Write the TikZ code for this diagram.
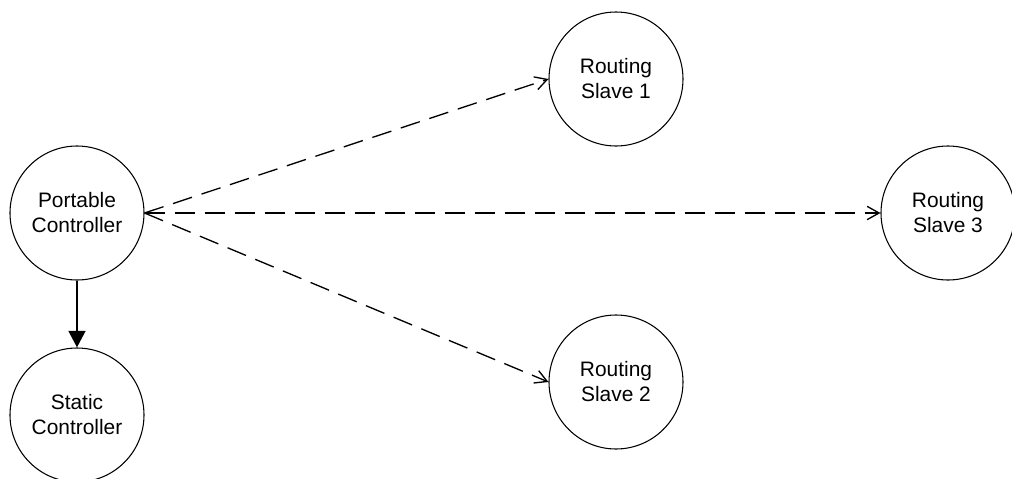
\documentclass[tikz,border=0pt]{standalone}
\usepackage{fontspec}
\setmainfont{Liberation Sans}
\usetikzlibrary{arrows.meta,calc}

\begin{document}
\begin{tikzpicture}[x=0.75bp, y=-0.75bp, font=\fontsize{15.75}{18.8}\selectfont]
  \tikzstyle{station}=[draw=black, line width=0.8pt, circle, minimum size=100.5bp,
                                inner sep=0pt, align=center]
  \tikzstyle{dash_edge} = [draw, -{Straight Barb[length=9bp,width=10bp]}, black,
                           line width=1pt, dash pattern=on 15bp off 7.5bp]
  \tikzstyle{ctrl_edge} = [draw, -{Triangle[length=12.5bp,width=12.5bp]}, black, line width=2.2pt]

  \useasboundingbox (0,0) rectangle (1012,479);

  % constants
  \def \ColL {77}
  \def \ColM {616}
  \def \ColR {948}

    \coordinate(P) at (\ColL, 213);
    \coordinate(S) at (\ColL, 415);
    \coordinate(R1) at (\ColM, 79);
    \coordinate(R2) at (\ColM, 382);
    \coordinate(R3) at (\ColR, 213);

    % Draw the stations
    \foreach \pos/\name/\txt in
        {
          {(P)/portable/Portable\\Controller},
          {(S)/static/Static\\Controller},
          {(R1)/slave1/Routing\\Slave 1},
          {(R2)/slave2/Routing\\Slave 2},
          {(R3)/slave3/Routing\\Slave 3}%
        }
        \node[station] (\name) at \pos {\txt};

    % Routing slaves
    \foreach \dest in
      {
        slave1,
        slave2,
        slave3%
      }
      \path[dash_edge] (portable.east) -- (\dest.west);

    \path[ctrl_edge] (portable) -- (static);

\end{tikzpicture}
\end{document}
